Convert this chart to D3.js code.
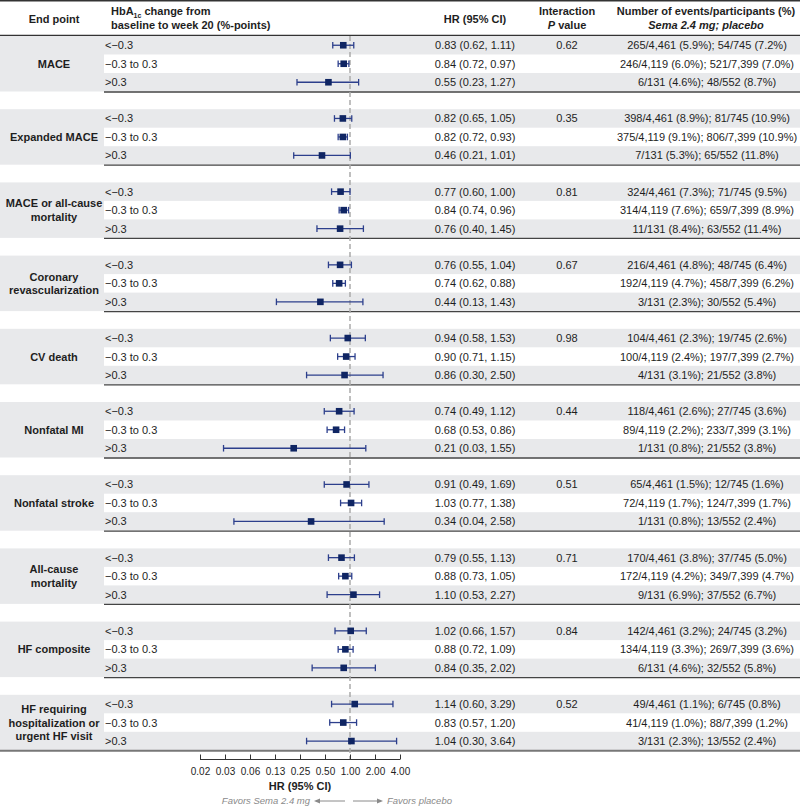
<!DOCTYPE html>
<html><head><meta charset="utf-8">
<script src="https://cdn.jsdelivr.net/npm/d3@7/dist/d3.min.js"></script>
<style>body{margin:0;background:#fff;}svg{display:block;font-family:"Liberation Sans",Arial,sans-serif;}</style>
</head><body><svg id="c" width="800" height="806"></svg>
<script>
const endpoints = [["MACE"],["Expanded MACE"],["MACE or all-cause","mortality"],["Coronary","revascularization"],["CV death"],["Nonfatal MI"],["Nonfatal stroke"],["All-cause","mortality"],["HF composite"],["HF requiring","hospitalization or","urgent HF visit"]];
const subgroups = ["<\u22120.3","\u22120.3 to 0.3",">0.3"];
const hr = [[0.83,0.84,0.55],[0.82,0.82,0.46],[0.77,0.84,0.76],[0.76,0.74,0.44],[0.94,0.90,0.86],[0.74,0.68,0.21],[0.91,1.03,0.34],[0.79,0.88,1.10],[1.02,0.88,0.84],[1.14,0.83,1.04]];
const lo = [[0.62,0.72,0.23],[0.65,0.72,0.21],[0.60,0.74,0.40],[0.55,0.62,0.13],[0.58,0.71,0.30],[0.49,0.53,0.03],[0.49,0.77,0.04],[0.55,0.73,0.53],[0.66,0.72,0.35],[0.60,0.57,0.30]];
const hi = [[1.11,0.97,1.27],[1.05,0.93,1.01],[1.00,0.96,1.45],[1.04,0.88,1.43],[1.53,1.15,2.50],[1.12,0.86,1.55],[1.69,1.38,2.58],[1.13,1.05,2.27],[1.57,1.09,2.02],[3.29,1.20,3.64]];
const pValues = ["0.62","0.35","0.81","0.67","0.98","0.44","0.51","0.71","0.84","0.52"];
const events = [
 ["265/4,461 (5.9%); 54/745 (7.2%)","246/4,119 (6.0%); 521/7,399 (7.0%)","6/131 (4.6%); 48/552 (8.7%)"],
 ["398/4,461 (8.9%); 81/745 (10.9%)","375/4,119 (9.1%); 806/7,399 (10.9%)","7/131 (5.3%); 65/552 (11.8%)"],
 ["324/4,461 (7.3%); 71/745 (9.5%)","314/4,119 (7.6%); 659/7,399 (8.9%)","11/131 (8.4%); 63/552 (11.4%)"],
 ["216/4,461 (4.8%); 48/745 (6.4%)","192/4,119 (4.7%); 458/7,399 (6.2%)","3/131 (2.3%); 30/552 (5.4%)"],
 ["104/4,461 (2.3%); 19/745 (2.6%)","100/4,119 (2.4%); 197/7,399 (2.7%)","4/131 (3.1%); 21/552 (3.8%)"],
 ["118/4,461 (2.6%); 27/745 (3.6%)","89/4,119 (2.2%); 233/7,399 (3.1%)","1/131 (0.8%); 21/552 (3.8%)"],
 ["65/4,461 (1.5%); 12/745 (1.6%)","72/4,119 (1.7%); 124/7,399 (1.7%)","1/131 (0.8%); 13/552 (2.4%)"],
 ["170/4,461 (3.8%); 37/745 (5.0%)","172/4,119 (4.2%); 349/7,399 (4.7%)","9/131 (6.9%); 37/552 (6.7%)"],
 ["142/4,461 (3.2%); 24/745 (3.2%)","134/4,119 (3.3%); 269/7,399 (3.6%)","6/131 (4.6%); 32/552 (5.8%)"],
 ["49/4,461 (1.1%); 6/745 (0.8%)","41/4,119 (1.0%); 88/7,399 (1.2%)","3/131 (2.3%); 13/552 (2.4%)"]
];
const tickValues = [1/64,1/32,1/16,1/8,1/4,1/2,1,2,4];
const tickLabels = ["0.02","0.03","0.06","0.13","0.25","0.50","1.00","2.00","4.00"];

const svg = d3.select("#c");
const W = 800;
const x = d3.scaleLog().base(2).domain([1/64,4]).range([200,400]);
const top0 = 36, pitch = 73.2, rowH = 18.5, gH = rowH*3;
const band = "#e8e9eb", navy = "#0f2563", ciCol = "#2c3f8c", txt = "#1e1e1e";

// header
svg.append("line").attr("x1",0).attr("x2",W).attr("y1",0.8).attr("y2",0.8).attr("stroke","#333").attr("stroke-width",1.6);
const hdr = svg.append("g").attr("font-size",11).attr("font-weight","bold").attr("fill",txt);
hdr.append("text").attr("x",54).attr("y",23).attr("text-anchor","middle").text("End point");
const t1 = hdr.append("text").attr("x",111).attr("y",15);
t1.append("tspan").text("HbA");
t1.append("tspan").attr("font-size",7).attr("dy",2.5).text("1c");
t1.append("tspan").attr("dy",-2.5).text(" change from");
hdr.append("text").attr("x",111).attr("y",29).text("baseline to week 20 (%-points)");
hdr.append("text").attr("x",475).attr("y",23).attr("text-anchor","middle").text("HR (95% CI)");
hdr.append("text").attr("x",567).attr("y",15).attr("text-anchor","middle").text("Interaction");
const pv = hdr.append("text").attr("x",567).attr("y",29).attr("text-anchor","middle");
pv.append("tspan").attr("font-style","italic").text("P");
pv.append("tspan").text(" value");
hdr.append("text").attr("x",706).attr("y",15).attr("text-anchor","middle").text("Number of events/participants (%)");
hdr.append("text").attr("x",706).attr("y",29).attr("text-anchor","middle").attr("font-style","italic").text("Sema 2.4 mg; placebo");
svg.append("line").attr("x1",0).attr("x2",W).attr("y1",35.3).attr("y2",35.3).attr("stroke","#333").attr("stroke-width",1.2);

// groups
const groups = svg.append("g");
endpoints.forEach((ep,g)=>{
  const gy = top0 + g*pitch;
  const G = groups.append("g");
  G.append("rect").attr("x",0).attr("y",gy).attr("width",W).attr("height",gH).attr("fill",band);
  G.append("rect").attr("x",104).attr("y",gy+rowH).attr("width",W-104).attr("height",rowH).attr("fill","#fff");
  const last = g===endpoints.length-1;
  G.append("line").attr("x1",last?0:104).attr("x2",W).attr("y1",gy+gH+0.5).attr("y2",gy+gH+0.5)
    .attr("stroke",last?"#777":"#444").attr("stroke-width",last?2:1.3);
  const lbl = G.append("text").attr("font-size",11).attr("font-weight","bold").attr("fill",txt).attr("text-anchor","middle");
  const n = ep.length, lh = 13.5;
  ep.forEach((s,i)=>{
    lbl.append("tspan").attr("x",54).attr("y",gy+gH/2+4+(i-(n-1)/2)*lh).text(s);
  });
  G.append("text").attr("x",567).attr("y",gy+rowH/2+4).attr("text-anchor","middle").attr("font-size",11).attr("fill",txt).text(pValues[g]);
  subgroups.forEach((sg,r)=>{
    const cy = gy + rowH*r + rowH/2;
    G.append("text").attr("x",105).attr("y",cy+4).attr("font-size",11).attr("fill",txt).text(sg);
    G.append("text").attr("x",475).attr("y",cy+4).attr("text-anchor","middle").attr("font-size",11).attr("fill",txt)
      .text(`${hr[g][r].toFixed(2)} (${lo[g][r].toFixed(2)}, ${hi[g][r].toFixed(2)})`);
    G.append("text").attr("x",707).attr("y",cy+4).attr("text-anchor","middle").attr("font-size",11).attr("fill",txt).text(events[g][r]);
  });
});

// reference line
svg.append("line").attr("x1",x(1)).attr("x2",x(1)).attr("y1",36).attr("y2",759)
  .attr("stroke","#aaa").attr("stroke-width",1.5).attr("stroke-dasharray","5,3");

// CI marks
const marks = svg.append("g");
endpoints.forEach((ep,g)=>{
  const gy = top0 + g*pitch;
  subgroups.forEach((sg,r)=>{
    const cy = gy + rowH*r + rowH/2;
    const x0 = x(lo[g][r]), x1 = x(hi[g][r]), xm = x(hr[g][r]);
    marks.append("line").attr("x1",x0).attr("x2",x1).attr("y1",cy).attr("y2",cy).attr("stroke",ciCol).attr("stroke-width",1.3);
    [x0,x1].forEach(xx=>marks.append("line").attr("x1",xx).attr("x2",xx).attr("y1",cy-3.3).attr("y2",cy+3.3).attr("stroke",ciCol).attr("stroke-width",1.3));
    marks.append("rect").attr("x",xm-3.3).attr("y",cy-3.3).attr("width",6.6).attr("height",6.6).attr("fill",navy);
  });
});

// axis
const axis = d3.axisTop(x).tickValues(tickValues).tickFormat((d,i)=>tickLabels[i]).tickSize(5).tickSizeOuter(0);
const ag = svg.append("g").attr("transform","translate(0,759.5)").call(axis);
ag.select(".domain").attr("stroke","#333").attr("stroke-width",1.1).attr("d","M200,0H400");
ag.selectAll(".tick line").attr("stroke","#333").attr("y2",-5);
ag.selectAll(".tick text").attr("y",15).attr("dy",0).attr("font-size",10).attr("fill",txt).attr("font-family","Liberation Sans, Arial, sans-serif");
svg.append("text").attr("x",300).attr("y",790).attr("text-anchor","middle").attr("font-size",11).attr("font-weight","bold").attr("fill",txt).text("HR (95% CI)");

// favors
const fav = svg.append("g").attr("font-size",9.5).attr("font-style","italic").attr("fill","#8a8a8a");
fav.append("text").attr("x",310).attr("y",804).attr("text-anchor","end").text("Favors Sema 2.4 mg");
fav.append("text").attr("x",387).attr("y",804).text("Favors placebo");
const ay = 801;
svg.append("line").attr("x1",316).attr("x2",345).attr("y1",ay).attr("y2",ay).attr("stroke","#8a8a8a").attr("stroke-width",1);
svg.append("path").attr("d",`M314,${ay}L320,${ay-2.5}L320,${ay+2.5}Z`).attr("fill","#8a8a8a");
svg.append("line").attr("x1",353).attr("x2",381).attr("y1",ay).attr("y2",ay).attr("stroke","#8a8a8a").attr("stroke-width",1);
svg.append("path").attr("d",`M383,${ay}L377,${ay-2.5}L377,${ay+2.5}Z`).attr("fill","#8a8a8a");
</script></body></html>
